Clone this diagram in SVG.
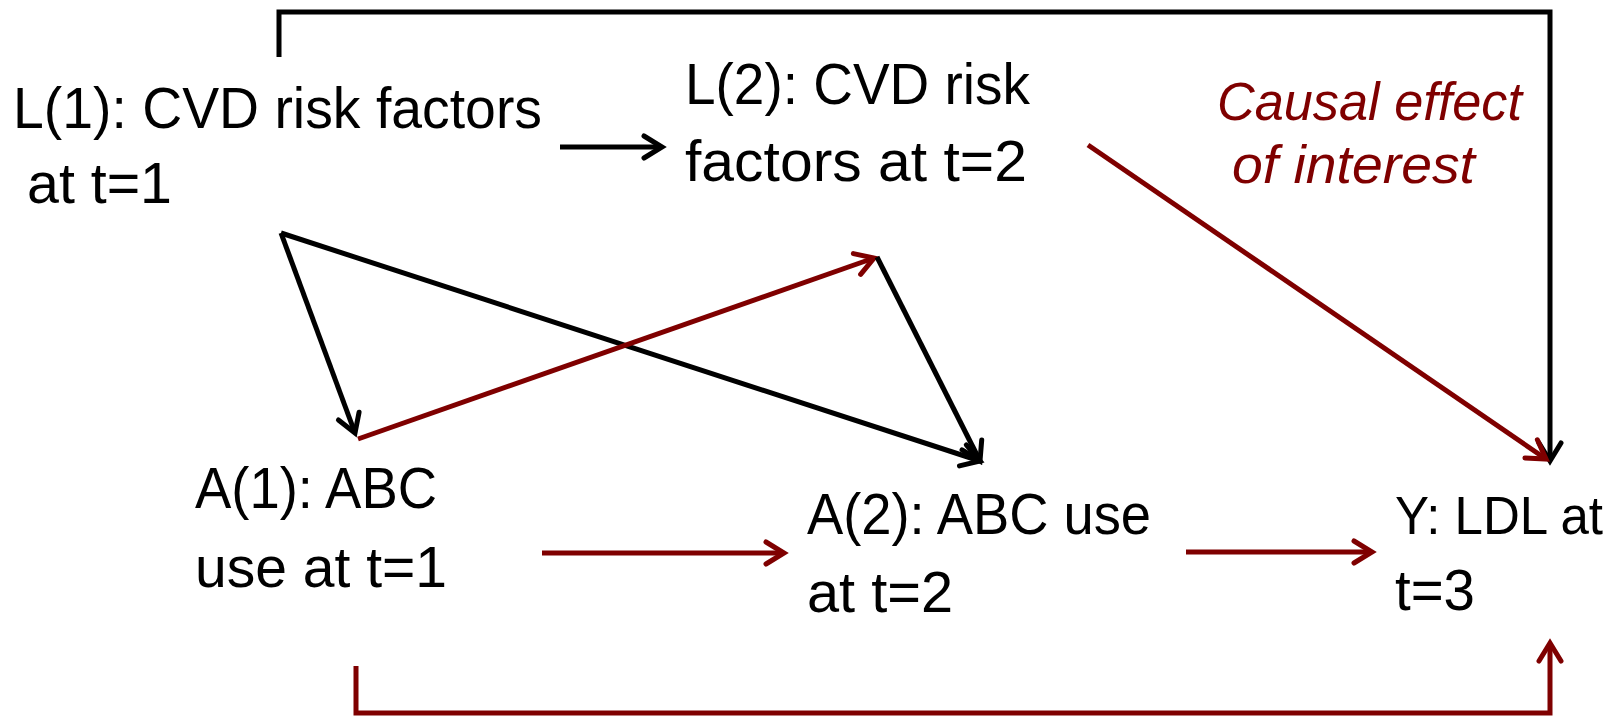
<svg xmlns="http://www.w3.org/2000/svg" width="1620" height="717" viewBox="0 0 1620 717">
<style>
.t{font-family:"Liberation Sans",Arial,sans-serif;font-size:58px;fill:#000}
.i{font-family:"Liberation Sans",Arial,sans-serif;font-size:54px;font-style:italic;fill:#7f0000}
.k{fill:none;stroke:#000;stroke-width:5;stroke-linejoin:miter}
.r{fill:none;stroke:#7f0000;stroke-width:5;stroke-linejoin:miter}
</style>
<defs>
<marker id="ak" viewBox="0 0 28 28" refX="23" refY="14" markerWidth="28" markerHeight="28" markerUnits="userSpaceOnUse" orient="auto">
<path d="M5,3 L23,14 L5,25" fill="none" stroke="#000" stroke-width="5" stroke-linecap="round" stroke-linejoin="miter"/>
</marker>
<marker id="ar" viewBox="0 0 28 28" refX="23" refY="14" markerWidth="28" markerHeight="28" markerUnits="userSpaceOnUse" orient="auto">
<path d="M5,3 L23,14 L5,25" fill="none" stroke="#7f0000" stroke-width="5" stroke-linecap="round" stroke-linejoin="miter"/>
</marker>
</defs>
<rect width="1620" height="717" fill="#fff"/>
<g id="connectors">
<path class="k" d="M560,147 L662,147" marker-end="url(#ak)"/>
<path class="k" d="M279,57 L279,12 L1550,12 L1550,461" marker-end="url(#ak)"/>
<path class="r" d="M1088,145 L1546,459" marker-end="url(#ar)"/>
<path class="k" d="M281,233 L355,433" marker-end="url(#ak)"/>
<path class="k" d="M281,233 L980,461" marker-end="url(#ak)"/>
<path class="r" d="M358,439 L874,258" marker-end="url(#ar)"/>
<path class="k" d="M877,257 L980,461" marker-end="url(#ak)"/>
<path class="r" d="M542,553 L784,553" marker-end="url(#ar)"/>
<path class="r" d="M1186,552 L1372,552" marker-end="url(#ar)"/>
<path class="r" d="M356,666 L356,713 L1550,713 L1550,643" marker-end="url(#ar)"/>
</g>
<g id="L1">
<text class="t" x="13" y="128" textLength="529" lengthAdjust="spacingAndGlyphs">L(1): CVD risk factors</text>
<text class="t" x="27" y="203" textLength="145" lengthAdjust="spacingAndGlyphs">at t=1</text>
</g>
<g id="L2">
<text class="t" x="685" y="104" textLength="345" lengthAdjust="spacingAndGlyphs">L(2): CVD risk</text>
<text class="t" x="685" y="181" textLength="342" lengthAdjust="spacingAndGlyphs">factors at t=2</text>
</g>
<g id="label">
<text class="i" x="1217" y="120" textLength="305" lengthAdjust="spacingAndGlyphs">Causal effect</text>
<text class="i" x="1232" y="183" textLength="243" lengthAdjust="spacingAndGlyphs">of interest</text>
</g>
<g id="A1">
<text class="t" x="195" y="508" textLength="242" lengthAdjust="spacingAndGlyphs">A(1): ABC</text>
<text class="t" x="195" y="587" textLength="252" lengthAdjust="spacingAndGlyphs">use at t=1</text>
</g>
<g id="A2">
<text class="t" x="807" y="534" textLength="344" lengthAdjust="spacingAndGlyphs">A(2): ABC use</text>
<text class="t" x="807" y="612" textLength="146" lengthAdjust="spacingAndGlyphs">at t=2</text>
</g>
<g id="Y">
<text class="t" x="1395" y="534" font-size="53" textLength="208" lengthAdjust="spacingAndGlyphs" style="font-size:53px">Y: LDL at</text>
<text class="t" x="1395" y="610" textLength="80" lengthAdjust="spacingAndGlyphs">t=3</text>
</g>
</svg>
